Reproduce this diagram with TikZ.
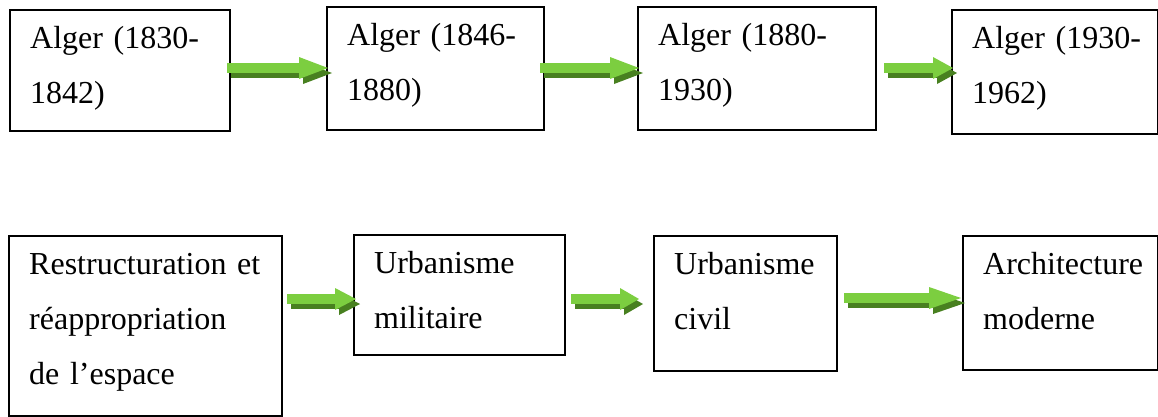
\documentclass[tikz,border=0pt]{standalone}
\usepackage{fontspec}
\setmainfont{Liberation Serif}
\usetikzlibrary{arrows.meta}
\definecolor{agreen}{RGB}{124,206,64}
\definecolor{ashadow}{RGB}{72,128,32}
\begin{document}
\begin{tikzpicture}[x=1pt,y=-1pt,
  boxnode/.style={draw=black, line width=1.5pt, anchor=north west, inner sep=0pt, fill=white},
  txt/.style={anchor=north west, inner sep=0pt, align=left, text width=#1,
    font=\fontsize{32}{55}\selectfont},
  garrow/.style={line width=10pt, draw=agreen, fill=agreen,
    -{Triangle[length=#1, width=22pt, line width=0pt]}},
  sarrow/.style={line width=10pt, draw=ashadow, fill=ashadow,
    -{Triangle[length=#1, width=22pt, line width=0pt]},
    transform canvas={shift={(4pt,-5pt)}}},
]
\useasboundingbox (0,0) rectangle (1158,416);

% top row boxes
\node[boxnode, minimum width=220pt, minimum height=121pt] (b1) at (9,9) {};
\node[boxnode, minimum width=217pt, minimum height=123pt] (b2) at (326,6) {};
\node[boxnode, minimum width=238pt, minimum height=123pt] (b3) at (637,6) {};
\node[boxnode, minimum width=205.5pt, minimum height=124pt] (b4) at (951,9) {};
% bottom row boxes
\node[boxnode, minimum width=273pt, minimum height=180pt] (b5) at (8,235) {};
\node[boxnode, minimum width=211pt, minimum height=120pt] (b6) at (353,234) {};
\node[boxnode, minimum width=183pt, minimum height=135pt] (b7) at (653,235) {};
\node[boxnode, minimum width=194.5pt, minimum height=134pt] (b8) at (962,235) {};

% texts
\node[txt=200pt] (t1) at ([xshift=21pt]b1.north west) {\noindent\rule{0pt}{39pt}Alger (1830-\\1842)};
\node[txt=195pt] (t2) at ([xshift=21pt]b2.north west) {\noindent\rule{0pt}{39pt}Alger (1846-\\1880)};
\node[txt=210pt] (t3) at ([xshift=21pt]b3.north west) {\noindent\rule{0pt}{39pt}Alger (1880-\\1930)};
\node[txt=185pt] (t4) at ([xshift=21pt]b4.north west) {\noindent\rule{0pt}{39pt}Alger (1930-\\1962)};
\node[txt=250pt] (t5) at ([xshift=21pt]b5.north west) {\noindent\rule{0pt}{39pt}Restructuration et\\réappropriation\\de l’espace};
\node[txt=190pt] (t6) at ([xshift=21pt]b6.north west) {\noindent\rule{0pt}{39pt}Urbanisme\\militaire};
\node[txt=165pt] (t7) at ([xshift=21pt]b7.north west) {\noindent\rule{0pt}{39pt}Urbanisme\\civil};
\node[txt=175pt] (t8) at ([xshift=21pt]b8.north west) {\noindent\rule{0pt}{39pt}Architecture\\moderne};

% arrow end points
\coordinate (a1s) at (227,68);  \coordinate (a1e) at (328,68);
\coordinate (a2s) at (540,68);  \coordinate (a2e) at (639,68);
\coordinate (a3s) at (884,68);  \coordinate (a3e) at (953,68);
\coordinate (a4s) at (287,299); \coordinate (a4e) at (356,299);
\coordinate (a5s) at (571,299); \coordinate (a5e) at (639,299);
\coordinate (a6s) at (844,298); \coordinate (a6e) at (961,298);

% shadows
\draw[sarrow=29pt] (a1s) -- (a1e);
\draw[sarrow=29pt] (a2s) -- (a2e);
\draw[sarrow=20pt] (a3s) -- (a3e);
\draw[sarrow=21pt] (a4s) -- (a4e);
\draw[sarrow=19pt] (a5s) -- (a5e);
\draw[sarrow=32pt] (a6s) -- (a6e);
% arrows
\draw[garrow=29pt] (a1s) -- (a1e);
\draw[garrow=29pt] (a2s) -- (a2e);
\draw[garrow=20pt] (a3s) -- (a3e);
\draw[garrow=21pt] (a4s) -- (a4e);
\draw[garrow=19pt] (a5s) -- (a5e);
\draw[garrow=32pt] (a6s) -- (a6e);
\end{tikzpicture}
\end{document}
